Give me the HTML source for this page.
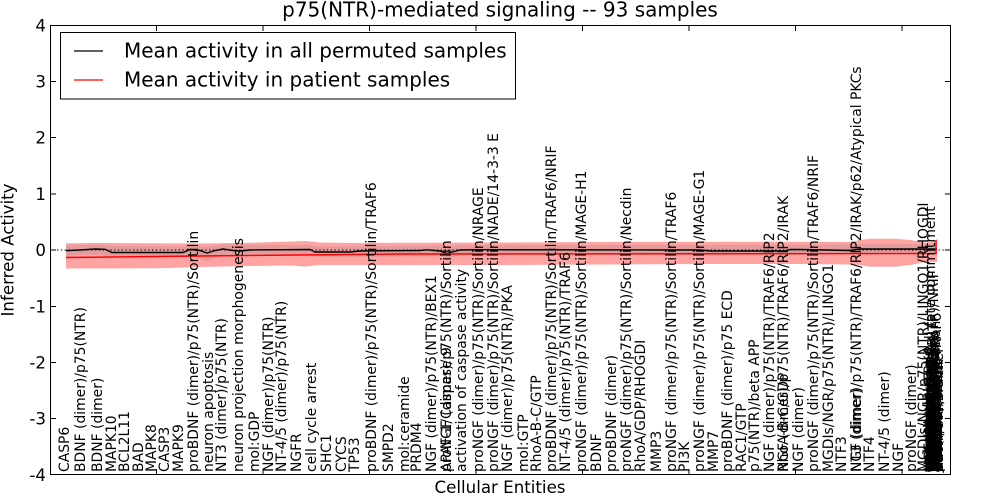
<!DOCTYPE html>
<html>
<head>
<meta charset="utf-8">
<style>
html,body{margin:0;padding:0;background:#fff;}
svg{display:block;}
text{font-family:"DejaVu Sans","Liberation Sans",sans-serif;fill:#000;}
.xl{font-size:13.9px;}
</style>
</head>
<body>
<svg width="1000" height="500" viewBox="0 0 1000 500" xmlns="http://www.w3.org/2000/svg">
<rect x="0" y="0" width="1000" height="500" fill="#fff"/>

<!-- title -->
<text x="500" y="16.5" font-size="20" text-anchor="middle">p75(NTR)-mediated signaling -- 93 samples</text>

<!-- red band -->
<polygon fill="#ff0000" fill-opacity="0.36" stroke="none" points="66,243.3 100,243 150,243.3 200,243.5 260,242.5 290,241.5 305,241 320,242.5 350,243 400,242.7 500,242.5 600,242 700,241.7 800,241.7 850,242 860,240 870,238.8 895,238.8 910,240 925,242.5 932,242 937,239 937,262 925,262 910,265 895,266.7 870,266.7 860,265 850,264.5 800,264 700,264 600,264.5 500,265 400,265 320,265 305,266.5 290,265.5 250,266 200,267 160,268.3 66,268.5"/>

<!-- gray band -->
<polygon fill="#808080" fill-opacity="0.22" stroke="none" points="66,245.5 100,244.5 112,246 183,246.5 190,245 207,247 223,244.5 250,245 310,245 315,246.5 350,246.5 440,245.5 447,248 460,245 700,245 790,245 860,244 937,244 937,254 860,254 790,255 710,256 700,255 460,255 447,258.5 440,256 350,257 315,257 310,255 250,255.5 223,255 207,261 195,256 183,257 112,257 100,254.5 66,255.5"/>

<!-- dotted zero line -->
<line x1="57" y1="250" x2="951" y2="250" stroke="#000" stroke-width="1" stroke-dasharray="1.4 2.4"/>

<!-- black mean line -->
<polyline fill="none" stroke="#000" stroke-width="1.4" points="66,250.7 80,250 95,249 105,249.3 112,252.5 183,252.5 190,249.5 200,250.5 207,253 215,250.5 223,249 233,250.5 240,251 250,250 310,249.5 315,252 350,252 360,251 420,250.5 427,249.8 440,251 447,253.5 452,252 460,250 480,249.7 700,250 710,251 785,251 790,249.5 800,249.5 850,250.5 860,249 937,249"/>

<!-- red patient line -->
<polyline fill="none" stroke="#ff0000" stroke-width="1.4" points="66,257.5 200,256 300,255 400,254 936,253.5 936,240"/>

<!-- x tick labels -->
<g class="xl">
<text class="xl" transform="translate(69,472) rotate(-90)">CASP6</text>
<text class="xl" transform="translate(85,472) rotate(-90)">BDNF (dimer)/p75(NTR)</text>
<text class="xl" transform="translate(102,472) rotate(-90)">BDNF (dimer)</text>
<text class="xl" transform="translate(116,472) rotate(-90)">MAPK10</text>
<text class="xl" transform="translate(129,472) rotate(-90)">BCL2L11</text>
<text class="xl" transform="translate(143,472) rotate(-90)">BAD</text>
<text class="xl" transform="translate(156,472) rotate(-90)">MAPK8</text>
<text class="xl" transform="translate(169,472) rotate(-90)">CASP3</text>
<text class="xl" transform="translate(183,472) rotate(-90)">MAPK9</text>
<text class="xl" transform="translate(198,472) rotate(-90)">proBDNF (dimer)/p75(NTR)/Sortilin</text>
<text class="xl" transform="translate(213,472) rotate(-90)">neuron apoptosis</text>
<text class="xl" transform="translate(226,472) rotate(-90)">NT3 (dimer)/p75(NTR)</text>
<text class="xl" transform="translate(243,472) rotate(-90)">neuron projection morphogenesis</text>
<text class="xl" transform="translate(259,472) rotate(-90)">mol:GDP</text>
<text class="xl" transform="translate(273,472) rotate(-90)">NGF (dimer)/p75(NTR)</text>
<text class="xl" transform="translate(286,472) rotate(-90)">NT-4/5 (dimer)/p75(NTR)</text>
<text class="xl" transform="translate(301,472) rotate(-90)">NGFR</text>
<text class="xl" transform="translate(316,472) rotate(-90)">cell cycle arrest</text>
<text class="xl" transform="translate(331,472) rotate(-90)">SHC1</text>
<text class="xl" transform="translate(346,472) rotate(-90)">CYCS</text>
<text class="xl" transform="translate(359,472) rotate(-90)">TP53</text>
<text class="xl" transform="translate(376,472) rotate(-90)">proBDNF (dimer)/p75(NTR)/Sortilin/TRAF6</text>
<text class="xl" transform="translate(393,472) rotate(-90)">SMPD2</text>
<text class="xl" transform="translate(409,472) rotate(-90)">mol:ceramide</text>
<text class="xl" transform="translate(421,472) rotate(-90)">PRDM4</text>
<text class="xl" transform="translate(436,472) rotate(-90)">NGF (dimer)/p75(NTR)/BEX1</text>
<text class="xl" transform="translate(451,472) rotate(-90)">APAF-1/Caspase 9</text>
<text class="xl" transform="translate(451,472) rotate(-90)">proNGF (dimer)/p75(NTR)/Sortilin</text>
<text class="xl" transform="translate(466,472) rotate(-90)">activation of caspase activity</text>
<text class="xl" transform="translate(483,472) rotate(-90)">proNGF (dimer)/p75(NTR)/Sortilin/NRAGE</text>
<text class="xl" transform="translate(498,472) rotate(-90)">proNGF (dimer)/p75(NTR)/Sortilin/NADE/14-3-3 E</text>
<text class="xl" transform="translate(512,472) rotate(-90)">NGF (dimer)/p75(NTR)/PKA</text>
<text class="xl" transform="translate(528,472) rotate(-90)">mol:GTP</text>
<text class="xl" transform="translate(541,472) rotate(-90)">RhoA-B-C/GTP</text>
<text class="xl" transform="translate(556,472) rotate(-90)">proBDNF (dimer)/p75(NTR)/Sortilin/TRAF6/NRIF</text>
<text class="xl" transform="translate(570,472) rotate(-90)">NT-4/5 (dimer)/p75(NTR)/TRAF6</text>
<text class="xl" transform="translate(586,472) rotate(-90)">proNGF (dimer)/p75(NTR)/Sortilin/MAGE-H1</text>
<text class="xl" transform="translate(601,472) rotate(-90)">BDNF</text>
<text class="xl" transform="translate(616,472) rotate(-90)">proBDNF (dimer)</text>
<text class="xl" transform="translate(631,472) rotate(-90)">proNGF (dimer)/p75(NTR)/Sortilin/Necdin</text>
<text class="xl" transform="translate(645,472) rotate(-90)">RhoA/GDP/RHOGDI</text>
<text class="xl" transform="translate(661,472) rotate(-90)">MMP3</text>
<text class="xl" transform="translate(676,472) rotate(-90)">proNGF (dimer)/p75(NTR)/Sortilin/TRAF6</text>
<text class="xl" transform="translate(689,472) rotate(-90)">PI3K</text>
<text class="xl" transform="translate(704,472) rotate(-90)">proNGF (dimer)/p75(NTR)/Sortilin/MAGE-G1</text>
<text class="xl" transform="translate(718,472) rotate(-90)">MMP7</text>
<text class="xl" transform="translate(732,472) rotate(-90)">proBDNF (dimer)/p75 ECD</text>
<text class="xl" transform="translate(746,472) rotate(-90)">RAC1/GTP</text>
<text class="xl" transform="translate(759,472) rotate(-90)">p75(NTR)/beta APP</text>
<text class="xl" transform="translate(774,472) rotate(-90)">NGF (dimer)/p75(NTR)/TRAF6/RIP2</text>
<text class="xl" transform="translate(788,472) rotate(-90)">NGF (dimer)/p75(NTR)/TRAF6/RIP2/IRAK</text>
<text class="xl" transform="translate(788,472) rotate(-90)">RhoA-B-C/GDP</text>
<text class="xl" transform="translate(803,472) rotate(-90)">NGF (dimer)</text>
<text class="xl" transform="translate(818,472) rotate(-90)">proNGF (dimer)/p75(NTR)/Sortilin/TRAF6/NRIF</text>
<text class="xl" transform="translate(833,472) rotate(-90)">MGDIs/NGR/p75(NTR)/LINGO1</text>
<text class="xl" transform="translate(846,472) rotate(-90)">NTF3</text>
<text class="xl" transform="translate(861,472) rotate(-90)">NT3 (dimer)</text>
<text class="xl" transform="translate(861,472) rotate(-90)">NGF (dimer)/p75(NTR)/TRAF6/RIP2/IRAK/p62/Atypical PKCs</text>
<text class="xl" transform="translate(874,472) rotate(-90)">NTF4</text>
<text class="xl" transform="translate(889,472) rotate(-90)">NT-4/5 (dimer)</text>
<text class="xl" transform="translate(903,472) rotate(-90)">NGF</text>
<text class="xl" transform="translate(916,472) rotate(-90)">proNGF (dimer)</text>
<text class="xl" transform="translate(928,472) rotate(-90)">MGDIs/NGR/p75(NTR)/LINGO1/RHOGDI</text>
<!-- piled labels -->
<text class="xl" transform="translate(935,472) rotate(-90)">oligodendrocyte cell fate commitment</text>
<text class="xl" transform="translate(938,472) rotate(-90)">BDNF (dimer)/p75(NTR)/NRIF</text>
<text class="xl" transform="translate(941,472) rotate(-90)">p75 CTF/Sortilin/TRAF6</text>
<text class="xl" transform="translate(936,472) rotate(-90)">Gamma Secretase</text>
<text class="xl" transform="translate(939,472) rotate(-90)">negative regulation</text>
<text class="xl" transform="translate(942,472) rotate(-90)">p75(NTR)/NADE</text>
<text class="xl" transform="translate(934,472) rotate(-90)">NGF (dimer)/TRKA</text>
<text class="xl" transform="translate(937,472) rotate(-90)">p75(NTR)/TRAF6</text>
<text class="xl" transform="translate(940,472) rotate(-90)">neuron differentiation</text>
<text class="xl" transform="translate(943,472) rotate(-90)">BDNF/TRKB dimer</text>
<text class="xl" transform="translate(935,472) rotate(-90)">p75 ICD/NRIF</text>
<text class="xl" transform="translate(938,472) rotate(-90)">proBDNF/SORCS2</text>
<text class="xl" transform="translate(941,472) rotate(-90)">JNK cascade</text>
<text class="xl" transform="translate(934,472) rotate(-90)">axon guidance</text>
<text class="xl" transform="translate(937,472) rotate(-90)">Sortilin/p75 CTF</text>
<text class="xl" transform="translate(940,472) rotate(-90)">MAGE-H1/NGFR</text>
<text class="xl" transform="translate(943,472) rotate(-90)">RhoA/GTP/ROCK</text>
<text class="xl" transform="translate(936,472) rotate(-90)">NGFR/BEX1/NADE</text>
<text class="xl" transform="translate(939,472) rotate(-90)">TRAF6/IRAK1/p62</text>
<text class="xl" transform="translate(942,472) rotate(-90)">mol:DAG/PRKCZ</text>
<text class="xl" transform="translate(937,472) rotate(-90)">RIPK2</text>
<text class="xl" transform="translate(940,472) rotate(-90)">IRAK1</text>
<text class="xl" transform="translate(938,472) rotate(-90)">SQSTM1</text>
<text class="xl" transform="translate(941,472) rotate(-90)">PRKCI</text>
<text class="xl" transform="translate(936,472) rotate(-90)">MAGED1</text>
<text class="xl" transform="translate(939,472) rotate(-90)">NGFRAP1</text>
<text class="xl" transform="translate(942,472) rotate(-90)">NDN</text>
<text class="xl" transform="translate(937,472) rotate(-90)">MAGEH1</text>
<text class="xl" transform="translate(940,472) rotate(-90)">ZNF274</text>
<text class="xl" transform="translate(938,472) rotate(-90)">YWHAE</text>
<text class="xl" transform="translate(941,472) rotate(-90)">SORT1</text>
<text class="xl" transform="translate(936,472) rotate(-90)">TRAF6</text>
<text class="xl" transform="translate(939,472) rotate(-90)">RTN4</text>
<text class="xl" transform="translate(942,472) rotate(-90)">OMG</text>
<text class="xl" transform="translate(937,472) rotate(-90)">LINGO1</text>
<text class="xl" transform="translate(940,472) rotate(-90)">RTN4R</text>
<text class="xl" transform="translate(938,472) rotate(-90)">ARHGDIA</text>
<text class="xl" transform="translate(941,472) rotate(-90)">RHOA</text>
<text class="xl" transform="translate(936,472) rotate(-90)">PSEN1</text>
<text class="xl" transform="translate(939,472) rotate(-90)">ADAM17</text>
<text class="xl" transform="translate(942,472) rotate(-90)">PIK3R1</text>
<text class="xl" transform="translate(937,472) rotate(-90)">BCL2L1</text>
<text class="xl" transform="translate(940,472) rotate(-90)">IKBKB</text>
<text class="xl" transform="translate(938,472) rotate(-90)">NFKB1</text>
<text class="xl" transform="translate(941,472) rotate(-90)">FURIN</text>
<text class="xl" transform="translate(936,472) rotate(-90)">PRKACA</text>
<text class="xl" transform="translate(939,472) rotate(-90)">APAF1</text>
<text class="xl" transform="translate(942,472) rotate(-90)">CASP9</text>
</g>

<!-- axes frame -->
<rect x="50.5" y="25.5" width="900" height="449" fill="none" stroke="#000" stroke-width="1"/>

<!-- y ticks -->
<g stroke="#000" stroke-width="1">
<line x1="50" y1="25.5" x2="56" y2="25.5"/><line x1="945" y1="25.5" x2="951" y2="25.5"/>
<line x1="50" y1="81.5" x2="56" y2="81.5"/><line x1="945" y1="81.5" x2="951" y2="81.5"/>
<line x1="50" y1="137.5" x2="56" y2="137.5"/><line x1="945" y1="137.5" x2="951" y2="137.5"/>
<line x1="50" y1="194" x2="56" y2="194"/><line x1="945" y1="194" x2="951" y2="194"/>
<line x1="50" y1="250" x2="56" y2="250"/><line x1="945" y1="250" x2="951" y2="250"/>
<line x1="50" y1="306.5" x2="56" y2="306.5"/><line x1="945" y1="306.5" x2="951" y2="306.5"/>
<line x1="50" y1="362.5" x2="56" y2="362.5"/><line x1="945" y1="362.5" x2="951" y2="362.5"/>
<line x1="50" y1="418.5" x2="56" y2="418.5"/><line x1="945" y1="418.5" x2="951" y2="418.5"/>
<line x1="50" y1="474.5" x2="56" y2="474.5"/><line x1="945" y1="474.5" x2="951" y2="474.5"/>
</g>
<!-- x ticks -->
<g stroke="#000" stroke-width="1">
<line x1="156.5" y1="25" x2="156.5" y2="31"/><line x1="156.5" y1="469" x2="156.5" y2="475"/>
<line x1="263" y1="25" x2="263" y2="31"/><line x1="263" y1="469" x2="263" y2="475"/>
<line x1="369.5" y1="25" x2="369.5" y2="31"/><line x1="369.5" y1="469" x2="369.5" y2="475"/>
<line x1="476" y1="25" x2="476" y2="31"/><line x1="476" y1="469" x2="476" y2="475"/>
<line x1="582.5" y1="25" x2="582.5" y2="31"/><line x1="582.5" y1="469" x2="582.5" y2="475"/>
<line x1="689" y1="25" x2="689" y2="31"/><line x1="689" y1="469" x2="689" y2="475"/>
<line x1="795.5" y1="25" x2="795.5" y2="31"/><line x1="795.5" y1="469" x2="795.5" y2="475"/>
<line x1="902" y1="25" x2="902" y2="31"/><line x1="902" y1="469" x2="902" y2="475"/>
</g>

<!-- y tick labels -->
<g font-size="16.67" text-anchor="end">
<text x="46" y="31.5">4</text>
<text x="46" y="87.5">3</text>
<text x="46" y="143.5">2</text>
<text x="46" y="200">1</text>
<text x="46" y="256">0</text>
<text x="46" y="312.5">-1</text>
<text x="46" y="368.5">-2</text>
<text x="46" y="424.5">-3</text>
<text x="46" y="481">-4</text>
</g>

<!-- axis labels -->
<text x="500" y="493" font-size="16.67" text-anchor="middle">Cellular Entities</text>
<text transform="translate(13.5,250) rotate(-90)" font-size="16.67" text-anchor="middle">Inferred Activity</text>

<!-- legend -->
<rect x="60.5" y="32.5" width="455" height="66.5" fill="#fff" stroke="#000" stroke-width="1"/>
<line x1="74" y1="51" x2="103" y2="51" stroke="#000" stroke-width="1.3"/>
<line x1="74" y1="80" x2="103" y2="80" stroke="#ff0000" stroke-width="1.3"/>
<text x="124" y="57.5" font-size="20">Mean activity in all permuted samples</text>
<text x="124" y="86.5" font-size="20">Mean activity in patient samples</text>
</svg>
</body>
</html>
